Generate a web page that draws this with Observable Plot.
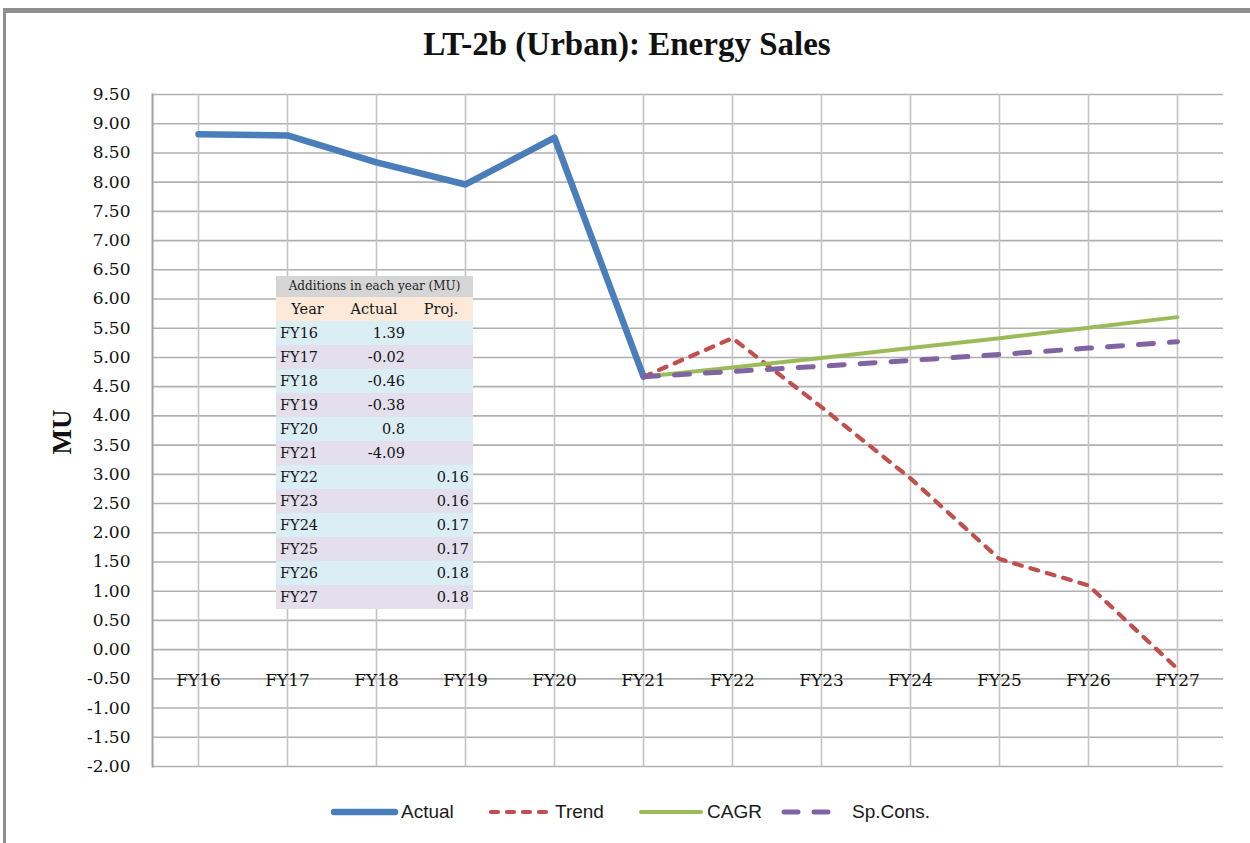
<!DOCTYPE html>
<html><head><meta charset="utf-8">
<script src="https://cdn.jsdelivr.net/npm/d3@7"></script>
<script src="https://cdn.jsdelivr.net/npm/@observablehq/plot@0.6"></script>
<style>
body{margin:0;background:#fff;}
#wrap{position:relative;width:1250px;height:843px;overflow:hidden;background:#fff;}
#frame{position:absolute;left:3px;top:8px;width:1270px;height:860px;border-left:3px solid #8f8f8f;border-top:5px solid #8f8f8f;box-sizing:border-box;}
#chart{position:absolute;left:0;top:0;}
#title{position:absolute;left:0;width:1254px;top:26px;text-align:center;font:bold 33px "Liberation Serif";color:#111;}
#ylabel{position:absolute;left:62px;top:432px;transform:translate(-50%,-50%) rotate(-90deg);font:bold 27px "Liberation Serif";color:#111;}
#legend{position:absolute;top:798px;left:0;width:1250px;height:28px;font:19px "Liberation Sans";color:#1a1a1a;}
#legend .item{position:absolute;top:0;display:flex;align-items:center;height:28px;}
#tbl{position:absolute;left:276px;top:276px;border-collapse:collapse;font:14.5px "DejaVu Serif";color:#151515;}
#tbl td{padding:0 4px;height:24px;line-height:24px;white-space:nowrap;}
</style></head>
<body><div id="wrap">
<div id="frame"></div>
<div id="chart"></div>
<div id="title">LT-2b (Urban): Energy Sales</div>
<div id="ylabel">MU</div>
<table id="tbl"></table>
<div id="legend"></div>
</div>
<script>
const years = ["FY16","FY17","FY18","FY19","FY20","FY21","FY22","FY23","FY24","FY25","FY26","FY27"];
const actualYears = ["FY16","FY17","FY18","FY19","FY20","FY21"];
const projYears = ["FY21","FY22","FY23","FY24","FY25","FY26","FY27"];
const actual = [8.82, 8.80, 8.34, 7.96, 8.76, 4.67];
const trend = [4.67, 5.33, 4.15, 2.93, 1.55, 1.10, -0.33];
const cagr = [4.67, 4.83, 4.99, 5.16, 5.33, 5.51, 5.69];
const spCons = [4.67, 4.76, 4.85, 4.95, 5.05, 5.16, 5.27];
const yTicks = [-2,-1.5,-1,-0.5,0,0.5,1,1.5,2,2.5,3,3.5,4,4.5,5,5.5,6,6.5,7,7.5,8,8.5,9,9.5];
const addActual = ["1.39","-0.02","-0.46","-0.38","0.8","-4.09","","","","","",""];
const addProj = ["","","","","","","0.16","0.16","0.17","0.17","0.18","0.18"];
const seriesNames = ["Actual","Trend","CAGR","Sp.Cons."];
const seriesColors = ["#4A7EBB","#C0504D","#9BBB59","#8064A2"];

const mk = (xs, vs) => xs.map((x,i)=>({x, y: vs[i]}));
const dActual = mk(actualYears, actual);
const dTrend = mk(projYears, trend);
const dCagr = mk(projYears, cagr);
const dSp = mk(projYears, spCons);

const chart = Plot.plot({
  width:1250, height:843,
  marginLeft:152, marginRight:27, marginTop:94, marginBottom:77,
  style:{background:"transparent", fontFamily:"DejaVu Serif", fontSize:"17px", color:"#111"},
  x:{type:"point", domain:years, padding:0.5, axis:null},
  y:{domain:[-2,9.5], axis:null},
  marks:[
    Plot.ruleY(yTicks, {stroke:"#b0b0b0", strokeWidth:1.6}),
    Plot.ruleX(years, {stroke:"#c4c4c4", strokeWidth:1.6}),
    Plot.frame({anchor:"left", stroke:"#a0a0a0", strokeWidth:2}),
    Plot.axisY({ticks:yTicks, tickSize:0, tickPadding:22, tickFormat:d=>d.toFixed(2), fill:"#111", fontSize:17, label:null}),
    Plot.text(years, {x:d=>d, y:()=>0, dy:31, fill:"#111", fontSize:17}),
    Plot.line(dActual, {x:"x", y:"y", stroke:seriesColors[0], strokeWidth:6.5, strokeLinejoin:"round", strokeLinecap:"round"}),
    Plot.line(dTrend, {x:"x", y:"y", stroke:seriesColors[1], strokeWidth:4.2, strokeDasharray:"8,9", strokeLinecap:"round"}),
    Plot.line(dCagr, {x:"x", y:"y", stroke:seriesColors[2], strokeWidth:4, strokeLinecap:"round"}),
    Plot.line(dSp, {x:"x", y:"y", stroke:seriesColors[3], strokeWidth:5, strokeDasharray:"15,16", strokeLinecap:"round"})
  ]
});
document.getElementById("chart").appendChild(chart);

// inset table
const tbl = document.getElementById("tbl");
const rowBg = ["#DAEEF3","#E4DFEC"];
let html = `<tr style="background:#D5D5D5"><td colspan="3" style="height:21px;line-height:21px;font-size:12px;text-align:center;color:#222">Additions in each year (MU)</td></tr>`;
html += `<tr style="background:#FDE9D9"><td style="width:55px;text-align:center">Year</td><td style="width:62px;text-align:center">Actual</td><td style="width:56px;text-align:center">Proj.</td></tr>`;
years.forEach((y,i)=>{
  html += `<tr style="background:${rowBg[i%2]}"><td style="text-align:left">${y}</td><td style="text-align:right">${addActual[i]}</td><td style="text-align:right">${addProj[i]}</td></tr>`;
});
tbl.innerHTML = html;

// legend
const legend = document.getElementById("legend");
const legendPos = [330, 487, 637, 780];
const swatchW = [65, 60, 64, 58];
const dashes = [null, "7,9", null, "14,16"];
const widths = [6.5, 4.2, 4, 5];
const gaps = [0, 2, 0, 8];
seriesNames.forEach((name,i)=>{
  const it = document.createElement("div");
  it.className = "item";
  it.style.left = legendPos[i]+"px";
  const w = swatchW[i];
  it.innerHTML = `<svg width="${w+6}" height="28"><line x1="4" x2="${w}" y1="14" y2="14" stroke="${seriesColors[i]}" stroke-width="${widths[i]}" stroke-linecap="round" ${dashes[i]?`stroke-dasharray="${dashes[i]}"`:""}/></svg><span style="margin-left:${gaps[i]}px">${name}</span>`;
  legend.appendChild(it);
});
</script>
</body></html>
